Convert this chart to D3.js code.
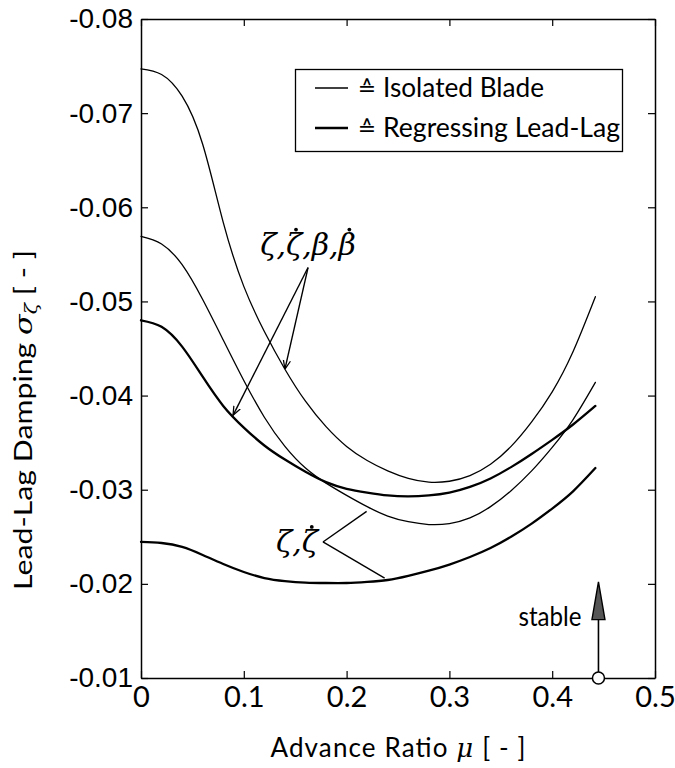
<!DOCTYPE html>
<html><head><meta charset="utf-8">
<script src="https://cdn.jsdelivr.net/npm/d3@7"></script>
<style>body{margin:0;background:#fff} svg{display:block}</style>
</head><body>
<svg id="chart" width="675" height="768"></svg>
<script>
// ---------- data ----------
const mu = [0,0.02,0.04,0.06,0.08,0.10,0.12,0.14,0.16,0.18,0.20,0.22,0.24,0.26,0.28,0.30,0.32,0.34,0.36,0.38,0.40,0.42,0.442];
// Isolated blade (thin) – zeta, zeta-dot, beta, beta-dot
const isolatedFull = [-0.0747,-0.0741,-0.0718,-0.0667,-0.0584,-0.0516,-0.0468,-0.0428,-0.0394,-0.0367,-0.0346,-0.0331,-0.0320,-0.0312,-0.0308,-0.0309,-0.0315,-0.0327,-0.0346,-0.0372,-0.0404,-0.0446,-0.0505];
// Isolated blade (thin) – zeta, zeta-dot
const isolatedLag = [-0.0569,-0.0561,-0.0539,-0.0502,-0.0459,-0.0416,-0.0377,-0.0346,-0.0323,-0.0307,-0.0294,-0.0282,-0.0272,-0.0266,-0.0263,-0.0264,-0.0270,-0.0282,-0.0299,-0.0320,-0.0345,-0.0374,-0.0414];
// Regressing lead-lag (thick) – zeta, zeta-dot, beta, beta-dot
const regressingFull = [-0.0480,-0.0473,-0.0452,-0.0420,-0.0389,-0.0366,-0.0347,-0.0332,-0.0319,-0.0308,-0.0301,-0.0297,-0.0294,-0.0293,-0.0294,-0.0297,-0.0303,-0.0312,-0.0324,-0.0338,-0.0353,-0.0369,-0.0389];
// Regressing lead-lag (thick) – zeta, zeta-dot
const regressingLag = [-0.02445,-0.02434,-0.02392,-0.02307,-0.02211,-0.02126,-0.02062,-0.0203,-0.02014,-0.02009,-0.02009,-0.0202,-0.02041,-0.02085,-0.0214,-0.02205,-0.02285,-0.0238,-0.0250,-0.0264,-0.0280,-0.0298,-0.0323];

const xTicks = [0,0.1,0.2,0.3,0.4,0.5];
const xTickLabels = ["0","0.1","0.2","0.3","0.4","0.5"];
const yTicks = [-0.08,-0.07,-0.06,-0.05,-0.04,-0.03,-0.02,-0.01];
const yTickLabels = ["-0.08","-0.07","-0.06","-0.05","-0.04","-0.03","-0.02","-0.01"];
const legendLabels = ["Isolated Blade","Regressing Lead-Lag"];

// annotation anchors (mu, sigma)
const annoFullLabel = [0.1625,-0.0536];
const annoFullTargets = [[0.0895,-0.0379],[0.140,-0.0428]];
const annoLagLabel = [0.177,-0.02445];
const annoLagTargets = [[0.2195,-0.0277],[0.237,-0.0206]];
const stableMu = 0.445;
const stableFrom = -0.01, stableTo = -0.0202, stableHeadBase = -0.0162;

// ---------- layout ----------
const svg = d3.select("#chart");
const L = 141, R = 655, T = 19, B = 678;
const x = d3.scaleLinear().domain([0,0.5]).range([L,R]);
const y = d3.scaleLinear().domain([-0.08,-0.01]).range([T,B]);
const ink = "#000";
const sansCM = "Lato, 'Open Sans', sans-serif";
const serifIt = "'DejaVu Serif', serif";

// axes
const axW = 1.5;
const gB = svg.append("g").attr("transform",`translate(0,${B})`)
  .call(d3.axisBottom(x).tickValues(xTicks).tickFormat((d,i)=>xTickLabels[i]).tickSizeInner(-7).tickSizeOuter(0).tickPadding(8));
const gT = svg.append("g").attr("transform",`translate(0,${T})`)
  .call(d3.axisTop(x).tickValues(xTicks).tickFormat("").tickSizeInner(-7).tickSizeOuter(0));
const gL = svg.append("g").attr("transform",`translate(${L},0)`)
  .call(d3.axisLeft(y).tickValues(yTicks).tickFormat((d,i)=>yTickLabels[i]).tickSizeInner(-7).tickSizeOuter(0).tickPadding(8));
const gR = svg.append("g").attr("transform",`translate(${R},0)`)
  .call(d3.axisRight(y).tickValues(yTicks).tickFormat("").tickSizeInner(-7).tickSizeOuter(0));
[gB,gT,gL,gR].forEach(g=>{
  g.select(".domain").attr("stroke",ink).attr("stroke-width",axW);
  g.selectAll(".tick line").attr("stroke",ink).attr("stroke-width",1.2);
});
gB.selectAll(".tick text").attr("font-family",sansCM).attr("font-size",29).attr("fill",ink);
gL.selectAll(".tick text").attr("font-family","'Liberation Sans', Arial, sans-serif").attr("font-size",28).attr("fill",ink);

// curves
const line = d3.line().x((d,i)=>x(mu[i])).y(d=>y(d)).curve(d3.curveNatural);
const series = [
  {v: isolatedFull, w: 1.3},
  {v: isolatedLag, w: 1.3},
  {v: regressingFull, w: 2.3},
  {v: regressingLag, w: 2.3}
];
svg.append("g").selectAll("path").data(series).join("path")
  .attr("d", s=>line(s.v)).attr("fill","none").attr("stroke",ink)
  .attr("stroke-width", s=>s.w).attr("stroke-linejoin","round").attr("stroke-linecap","round");

// arrow marker
const defs = svg.append("defs");
defs.append("marker").attr("id","ah").attr("viewBox","0 0 10 10").attr("refX",10).attr("refY",5)
  .attr("markerWidth",9).attr("markerHeight",9).attr("markerUnits","userSpaceOnUse").attr("orient","auto")
  .append("path").attr("d","M0,1 L10,5 L0,9").attr("fill","none").attr("stroke",ink).attr("stroke-width",1.4);

// helper: dotted symbols (dot over given char indices)
function dottedLabel(px, py, anchor, str, dotIdx){
  const t = svg.append("text").attr("x",px).attr("y",py).attr("text-anchor",anchor)
    .attr("font-family",serifIt).attr("font-style","italic").attr("font-size",30).attr("fill",ink).text(str);
  const node = t.node();
  dotIdx.forEach(i=>{
    const bb = node.getExtentOfChar(i);
    svg.append("circle").attr("cx",bb.x+bb.width*0.62).attr("cy",py-25).attr("r",1.9).attr("fill",ink);
  });
}

// annotation: zeta, zeta-dot, beta, beta-dot
svg.append("g").selectAll("line").data(annoFullTargets).join("line")
  .attr("x1",x(annoFullLabel[0])).attr("y1",y(annoFullLabel[1]))
  .attr("x2",d=>x(d[0])).attr("y2",d=>y(d[1]))
  .attr("stroke",ink).attr("stroke-width",1.4).attr("marker-end","url(#ah)");
dottedLabel(x(annoFullLabel[0])+0, y(annoFullLabel[1])-13, "middle", "ζ,ζ,β,β", [2,6]);

// annotation: zeta, zeta-dot
svg.append("g").selectAll("line").data(annoLagTargets).join("line")
  .attr("x1",x(annoLagLabel[0])).attr("y1",y(annoLagLabel[1]))
  .attr("x2",d=>x(d[0])).attr("y2",d=>y(d[1]))
  .attr("stroke",ink).attr("stroke-width",1.4);
dottedLabel(x(annoLagLabel[0])-5, y(annoLagLabel[1])+10, "end", "ζ,ζ", [2]);

// stable arrow
const sx = x(stableMu);
svg.append("line").attr("x1",sx).attr("x2",sx).attr("y1",y(stableFrom)).attr("y2",y(stableHeadBase))
  .attr("stroke",ink).attr("stroke-width",1.6);
svg.append("path").attr("d",`M${sx},${y(stableTo)} L${sx-6.5},${y(stableHeadBase)} L${sx+6.5},${y(stableHeadBase)} Z`)
  .attr("fill","#555").attr("stroke",ink).attr("stroke-width",1.4).attr("stroke-linejoin","miter");
svg.append("circle").attr("cx",sx).attr("cy",y(stableFrom)).attr("r",6)
  .attr("fill","#fff").attr("stroke",ink).attr("stroke-width",1.5);
svg.append("text").attr("x",sx-17).attr("y",y(stableHeadBase)+6).attr("text-anchor","end")
  .attr("font-family",sansCM).attr("font-size",27).attr("textLength",63).attr("lengthAdjust","spacingAndGlyphs")
  .attr("fill",ink).text("stable");

// legend
const lg = svg.append("g");
lg.append("rect").attr("x",295.5).attr("y",69.5).attr("width",327).attr("height",82)
  .attr("fill","#fff").attr("stroke",ink).attr("stroke-width",1.3);
const legRows = [{t:legendLabels[0], w:1.3, yy:88, len:161},{t:legendLabels[1], w:2.3, yy:128, len:237}];
legRows.forEach(r=>{
  lg.append("line").attr("x1",315).attr("x2",348).attr("y1",r.yy).attr("y2",r.yy).attr("stroke",ink).attr("stroke-width",r.w);
  lg.append("text").attr("x",367).attr("y",r.yy+8).attr("text-anchor","middle")
    .attr("font-family","'DejaVu Sans', sans-serif").attr("font-size",22).attr("fill",ink).text("≙");
  lg.append("text").attr("x",383).attr("y",r.yy+9).attr("font-family",sansCM).attr("font-size",26)
    .attr("textLength",r.len).attr("lengthAdjust","spacingAndGlyphs").attr("fill",ink).text(r.t);
});

// axis titles
const xt = svg.append("text").attr("x",398).attr("y",757).attr("text-anchor","middle")
  .attr("font-family",sansCM).attr("font-size",26).attr("fill",ink)
  .attr("textLength",255).attr("lengthAdjust","spacing");
xt.append("tspan").text("Advance Ratio ");
xt.append("tspan").attr("font-family",serifIt).attr("font-style","italic").text("μ");
xt.append("tspan").text("  [ - ]");

const yt = svg.append("text").attr("transform","translate(32,420) rotate(-90)").attr("text-anchor","middle")
  .attr("font-family",sansCM).attr("font-size",25).attr("fill",ink)
  .attr("textLength",340).attr("lengthAdjust","spacingAndGlyphs");
yt.append("tspan").text("Lead-Lag Damping ");
yt.append("tspan").attr("font-family",serifIt).attr("font-style","italic").text("σ");
yt.append("tspan").attr("font-family",serifIt).attr("font-style","italic").attr("font-size",17).attr("dy",5).text("ζ");
yt.append("tspan").attr("dy",-5).text("  [ - ]");
</script>
</body></html>
